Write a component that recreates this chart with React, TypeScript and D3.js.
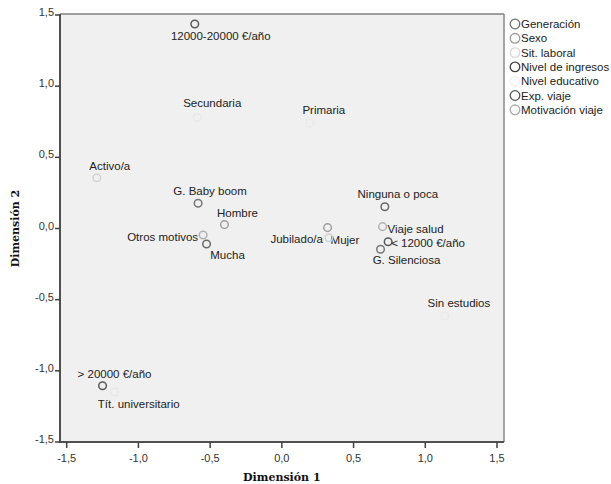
import React from 'react';
import * as d3 from 'd3';

// legend groups and their marker colours
const groups = ['Generación', 'Sexo', 'Sit. laboral', 'Nivel de ingresos', 'Nivel educativo', 'Exp. viaje', 'Motivación viaje'];
const legendColors = ['#6e6e6e', '#9c9c9c', '#d8d8d8', '#3e3e3e', '#f1f1f1', '#555555', '#aaaaaa'];
const pointColors = ['#777777', '#9e9e9e', '#d2d2d2', '#5a5a5a', '#e9e9e9', '#6a6a6a', '#b2b2b2'];

// category points (dimension 1, dimension 2, group index)
const labels = [
  '12000-20000 €/año', 'Secundaria', 'Primaria', 'Activo/a', 'G. Baby boom', 'Hombre',
  'Otros motivos', 'Mucha', 'Mujer', 'Jubilado/a', 'Ninguna o poca', 'Viaje salud',
  '< 12000 €/año', 'G. Silenciosa', 'Sin estudios', '> 20000 €/año', 'Tít. universitario',
];
const dim1 = [-0.607, -0.59, 0.195, -1.29, -0.584, -0.40, -0.549, -0.525, 0.319, 0.328, 0.718, 0.702, 0.741, 0.688, 1.137, -1.25, -1.165];
const dim2 = [1.437, 0.78, 0.74, 0.357, 0.177, 0.027, -0.046, -0.109, 0.006, -0.065, 0.153, 0.013, -0.093, -0.146, -0.615, -1.105, -1.149];
const group = [3, 4, 4, 2, 0, 1, 6, 5, 1, 2, 5, 6, 3, 0, 4, 3, 4];

const ticks = [-1.5, -1.0, -0.5, 0.0, 0.5, 1.0, 1.5];

// label placement relative to each point: [dx, dy, anchor]
const labelPos: [number, number, string][] = [
  [26, 12, 'middle'], [15, -15, 'middle'], [14, -13, 'middle'], [13, -12, 'middle'],
  [12, -12, 'middle'], [13, -12, 'middle'], [-5, 2, 'end'], [21, 11, 'middle'],
  [3, 12, 'start'], [-6, 1, 'end'], [13, -13, 'middle'], [5, 2, 'start'],
  [3, 1, 'start'], [26, 11, 'middle'], [14, -13, 'middle'], [12, -12, 'middle'],
  [24, 12, 'middle'],
];

const fmt = (v: number) => v.toFixed(1).replace('.', ',');

export default function App() {
  const width = 611;
  const height = 484;
  const left = 60, right = 504, top = 14, bottom = 442;

  const x = d3.scaleLinear().domain([-1.5, 1.5]).range([66.7, 497]);
  const y = d3.scaleLinear().domain([-1.5, 1.5]).range([442, 15]);

  const font = 'Arial, "Liberation Sans", sans-serif';
  const serif = '"Century Schoolbook", "DejaVu Serif", serif';

  return (
    <svg width={width} height={height} style={{ position: 'absolute', left: 0, top: 0 }}>
      <rect x={0} y={0} width={width} height={height} fill="#fff" />
      <rect x={left} y={top} width={right - left} height={bottom - top} fill="#f0f0f0" />
      <line x1={left} y1={top} x2={right} y2={top} stroke="#808080" strokeWidth={1.6} />
      <line x1={right} y1={top} x2={right} y2={bottom} stroke="#909090" strokeWidth={1.6} />
      <line x1={left} y1={bottom} x2={right} y2={bottom} stroke="#505050" strokeWidth={2} />
      <line x1={left} y1={top} x2={left} y2={bottom + 1} stroke="#505050" strokeWidth={2} />

      {ticks.map((t) => (
        <g key={'x' + t}>
          <line x1={x(t)} x2={x(t)} y1={bottom} y2={bottom + 6} stroke="#404040" strokeWidth={1.5} />
          <text x={x(t)} y={bottom + 20} textAnchor="middle" fontSize={11} fontFamily={font} fill="#333">{fmt(t)}</text>
        </g>
      ))}
      {ticks.map((t) => (
        <g key={'y' + t}>
          <line x1={left - 5} x2={left} y1={y(t)} y2={y(t)} stroke="#404040" strokeWidth={1.5} />
          <text x={left - 6} y={y(t) + 1} textAnchor="end" fontSize={11} fontFamily={font} fill="#333">{fmt(t)}</text>
        </g>
      ))}

      <text x={x(0)} y={481} textAnchor="middle" fontSize={11} fontWeight="bold" fontFamily={serif} fill="#111">Dimensión 1</text>
      <text transform={`translate(19,${y(0)}) rotate(-90)`} textAnchor="middle" fontSize={11} fontWeight="bold" fontFamily={serif} fill="#111">Dimensión 2</text>

      {labels.map((lab, i) => {
        const px = x(dim1[i]);
        const py = y(dim2[i]);
        const [dx, dy, anchor] = labelPos[i];
        return (
          <g key={lab}>
            <circle cx={px} cy={py} r={3.8} fill="none" stroke={pointColors[group[i]]} strokeWidth={1.5} />
            <text x={px + dx} y={py + dy} dy="0.35em" textAnchor={anchor} fontSize={11.5} fontFamily={font} fill="#222">{lab}</text>
          </g>
        );
      })}

      {groups.map((g, i) => (
        <g key={g} transform={`translate(0,${24 + i * 14.3})`}>
          <circle cx={515} cy={0} r={4.8} fill="none" stroke={legendColors[i]} strokeWidth={1.3} />
          <text x={521} y={0} dy="0.35em" fontSize={11.5} fontFamily={font} fill="#222">{g}</text>
        </g>
      ))}
    </svg>
  );
}
